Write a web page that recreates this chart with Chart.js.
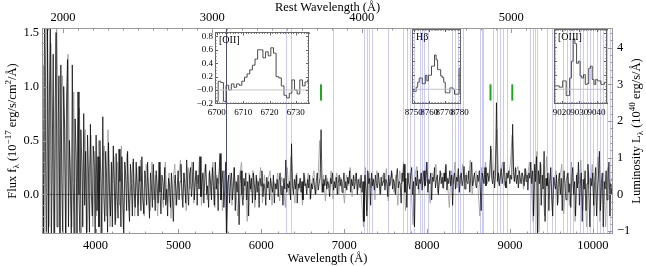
<!DOCTYPE html>
<html>
<head>
<meta charset="utf-8">
<script src="https://cdn.jsdelivr.net/npm/chart.js@4.4.1/dist/chart.umd.min.js"></script>
<style>
  body { margin: 0; background: #fff; }
  #wrap { position: relative; width: 646px; height: 266px; }
  canvas { position: absolute; }
</style>
</head>
<body>
<div id="wrap">
  <canvas id="main" width="646" height="266" style="left:0;top:0"></canvas>
  <canvas id="inOII" width="124" height="95" style="left:190px;top:25px"></canvas>
  <canvas id="inHb" width="90" height="95" style="left:382px;top:25px"></canvas>
  <canvas id="inOIII" width="90" height="95" style="left:524px;top:25px"></canvas>
</div>
<script>
const SERIF = '"Liberation Serif", "Times New Roman", serif';
Chart.defaults.font.family = SERIF;
Chart.defaults.color = '#000';

// observed spectrum, regular grid in wavelength (Å)
const waveStart = 3340, waveStep = 11.5;
const flux = [
  1.8, -0.6, 1.2, -0.5, 2.0, 0.3, -0.7, 1.6, -0.4, 0.9, 1.7, -0.5, 0.4, 1.3, -0.6, 0.8, 1.5, -0.3, 0.6, 1.1,
  -0.5, 1.2, 0.2, -0.4, 1.0, 0.6, -0.45, 0.9, 1.25, -0.3, 0.5, 0.2, -0.5, 1.2, 0.1, -0.4, 0.7, 0.35, -0.45, 0.95,
  0.0, -0.4, 0.6, 0.3, -0.3, 0.75, -0.1, 0.4, -0.45, 0.55, 0.2, -0.35, 0.65, 0.0, -0.2, 0.45, 0.25, -0.4, 0.55, -0.15,
  0.35, -0.3, 0.5, 0.1, -0.38, 0.72, 0.0, -0.25, 0.4, 0.15, -0.35, 0.48, 0.05, -0.2, 0.3, -0.3, 0.45, 0.1, -0.28, 0.38,
  0.0, -0.22, 0.42, 0.12, -0.3, 0.35, 0.0, -0.38, 0.3, 0.18, -0.15, 0.4, -0.05, -0.25, 0.28, 0.1, -0.2, 0.33, 0.02, -0.12,
  0.3, 0.05, -0.2, 0.26, 0.12, -0.15, 0.35, -0.02, -0.18, 0.22, 0.15, -0.1, 0.3, 0.0, -0.22, 0.2, 0.08, -0.12, 0.28, 0.05,
  -0.15, 0.22, 0.1, -0.08, 0.3, 0.02, -0.18, 0.18, 0.12, -0.05, 0.25, -0.1, 0.05, -0.2, 0.15, 0.08, -0.12, 0.2, 0.0, -0.25,
  0.1, 0.18, -0.1, 0.05, 0.22, -0.05, 0.12, 0.28, 0.0, -0.12, 0.2, 0.1, -0.08, 0.32, 0.05, -0.1, 0.18, 0.25, -0.02, 0.1,
  0.3, -0.05, 0.12, 0.22, -0.1, 0.18, 0.05, 0.35, -0.02, 0.1, 0.2, -0.08, 0.15, 0.28, 0.0, 0.08, -0.12, 0.22, 0.12, -0.05,
  0.25, 0.08, -0.1, 0.3, 0.05, 0.15, -0.15, 0.2, 0.38, -0.05, 0.1, 0.22, -0.12, 0.05, 0.3, -0.38, 0.1, 0.18, -0.08, 0.12,
  0.2, -0.05, 0.08, 0.25, -0.15, 0.12, 0.02, 0.18, -0.28, 0.1, 0.22, 0.0, -0.1, 0.15, 0.08, 0.2, -0.05, 0.12, -0.2, 0.18,
  0.05, 0.15, -0.08, 0.2, 0.1, -0.05, 0.18, 0.02, 0.12, -0.12, 0.15, 0.08, 0.22, -0.02, 0.1, 0.05, -0.1, 0.16, 0.06, 0.12,
  -0.05, 0.15, 0.08, 0.02, 0.18, -0.08, 0.1, 0.05, 0.14, -0.02, 0.12, 0.2, 0.0, 0.08, -0.1, 0.15, 0.05, 0.32, 0.02, 0.1,
  0.06, 0.12, -0.05, 0.47, 0.08, 0.0, 0.14, 0.05, 0.18, -0.08, 0.1, 0.06, 0.15, 0.02, 0.12, -0.05, 0.2, 0.08, 0.1, 0.0,
  0.14, 0.06, 0.18, -0.04, 0.1, 0.05, 0.15, 0.08, 0.0, 0.12, 0.2, 0.04, 0.1, 0.16, 0.6, 0.1, 0.02, 0.14, 0.08, 0.18,
  0.05, 0.12, 0.08, -0.02, 0.15, 0.1, 0.2, 0.04, 0.12, 0.06, 0.16, 0.0, 0.1, 0.18, 0.08, 0.14, 0.02, 0.1, 0.2, 0.06,
  0.12, 0.04, 0.16, 0.1, 0.22, 0.02, 0.14, 0.08, 0.18, 0.05, 0.12, 0.2, 0.0, 0.14, 0.1, 0.06, 0.18, 0.02, 0.12, -0.25,
  0.18, 0.05, -0.2, 0.22, 0.1, 0.15, -0.1, 0.2, 0.08, 0.14, 0.04, 0.18, 0.1, 0.06, 0.2, 0.12, 0.0, 0.16, 0.08, 0.12,
  0.2, 0.04, 0.14, 0.1, -0.02, 0.18, 0.08, 0.12, 0.22, 0.05, 0.14, 0.1, 0.0, 0.16, 0.24, 0.06, 0.12, 0.1, -0.08, 0.2,
  0.12, 0.28, 0.02, 0.15, -0.12, 0.2, 0.1, 0.05, 0.18, 0.25, 0.0, 0.12, -0.3, 0.16, 0.08, 0.22, 0.05, 0.14, 0.1, 0.2,
  0.04, 0.16, 0.22, 0.08, 0.12, 0.3, 0.02, 0.14, 0.1, 0.2, -0.05, 0.16, 0.12, 0.25, 0.06, 0.14, 0.18, 0.0, 0.12, 0.22,
  0.1, 0.16, 0.06, 0.2, 0.12, 0.28, 0.04, 0.15, 0.1, 0.22, 0.08, 0.18, -0.1, 0.14, 0.2, 0.05, 0.16, 0.12, 0.24, 0.02,
  0.15, 0.2, 0.08, 0.14, 0.26, 0.05, 0.18, 0.12, 0.1, 0.22, 0.02, 0.16, 0.3, 0.08, 0.14, 0.2, 0.1, 0.06, 0.18, 0.12,
  0.22, 0.05, -0.15, 0.2, 0.14, 0.1, 0.25, 0.08, 0.16, 0.2, 0.12, 0.18, 0.45, 0.15, 0.1, 0.22, 0.06, 0.18, 0.85, 0.12,
  0.2, 0.08, 0.16, 0.24, 0.1, 0.18, 0.3, 0.12, 0.06, 0.2, 0.15, 0.22, 0.1, 0.18, 0.14, 0.65, 0.2, 0.12, 0.25, 0.1,
  0.18, 0.06, 0.22, 0.14, 0.1, 0.2, 0.16, 0.08, 0.24, 0.12, 0.18, 0.04, 0.2, 0.15, 0.3, 0.1, 0.22, -0.2, 0.28, 0.12,
  0.35, -0.37, 0.22, 0.1, 0.3, -0.1, 0.18, 0.05, 0.4, -0.25, 0.15, 0.08, 0.2, -0.15, 0.12, 0.25, 0.0, -0.2, 0.16, 0.1,
  0.05, 0.18, -0.1, 0.12, 0.2, 0.0, 0.15, -0.15, 0.1, 0.22, 0.06, -0.05, 0.14, 0.2, 0.02, 0.1, -0.12, 0.16, 0.25, 0.0,
  0.12, -0.2, 0.18, 0.06, 0.3, -0.1, 0.1, 0.2, -0.25, 0.14, 0.05, 0.22, -0.15, 0.1, 0.28, 0.0, -0.3, 0.15, 0.08, 0.2,
  -0.1, 0.12, 0.25, -0.2, 0.05, 0.18, 0.4, -0.15, 0.1, 0.2, -0.3, 0.12, 0.05, 0.22, -0.05, 0.15, 0.3, -0.2, 0.1, 0.0,
  0.14, -0.12
];

// second (grey) trace of the spectrum, coarser grid
const greyStart = 3346, greyStep = 23;
const fluxGrey = [
  1.6, -0.5, 0.9, 1.9, -0.3, 1.4, 0.2, -0.6, 1.7, 0.5,
  -0.4, 1.1, 0.7, -0.5, 1.3, 0.1, -0.3, 0.95, -0.45, 0.6,
  0.8, -0.4, 0.3, 0.6, -0.35, 0.15, 0.55, -0.3, 0.4, -0.2,
  0.5, -0.38, 0.25, 0.45, -0.2, 0.6, -0.3, 0.1, 0.35, -0.25,
  0.3, -0.1, 0.45, -0.32, 0.2, 0.38, -0.15, 0.1, 0.3, -0.2,
  0.25, -0.1, 0.32, 0.0, -0.2, 0.28, 0.1, -0.15, 0.3, -0.05,
  0.18, -0.2, 0.25, 0.05, -0.12, 0.3, -0.08, 0.2, -0.22, 0.12,
  0.28, -0.1, 0.15, 0.32, -0.05, 0.2, -0.15, 0.25, 0.05, 0.3,
  -0.08, 0.22, 0.1, 0.35, -0.1, 0.15, 0.28, -0.05, 0.2, 0.0,
  0.3, -0.12, 0.18, 0.1, 0.36, -0.15, 0.22, -0.35, 0.12, 0.2,
  -0.1, 0.25, 0.05, -0.2, 0.18, 0.3, -0.05, 0.12, -0.25, 0.2,
  0.02, 0.22, -0.12, 0.15, 0.08, 0.25, -0.08, 0.18, 0.0, 0.14,
  0.22, -0.1, 0.12, 0.05, 0.2, -0.06, 0.16, 0.1, -0.12, 0.25,
  0.0, 0.35, 0.08, -0.08, 0.2, 0.04, 0.15, -0.1, 0.18, 0.06,
  0.2, -0.05, 0.12, 0.22, 0.0, 0.1, 0.5, 0.02, 0.18, -0.06,
  0.15, 0.06, 0.22, -0.04, 0.12, 0.2, 0.0, 0.16, 0.1, -0.08,
  0.18, 0.08, 0.25, -0.02, 0.12, 0.2, 0.04, 0.15, -0.05, -0.3,
  0.25, -0.15, 0.2, 0.06, 0.15, -0.05, 0.22, 0.1, 0.0, 0.18,
  0.08, 0.24, -0.06, 0.14, 0.2, 0.02, 0.18, -0.1, 0.22, 0.1,
  0.3, -0.15, 0.12, 0.2, 0.05, -0.28, 0.18, 0.26, 0.0, 0.15,
  0.22, 0.06, 0.3, 0.1, -0.08, 0.2, 0.14, 0.28, 0.02, 0.16,
  0.2, 0.05, 0.26, 0.12, -0.12, 0.22, 0.1, 0.3, 0.06, 0.18,
  0.1, 0.28, 0.05, 0.2, 0.14, 0.32, 0.0, 0.18, 0.22, 0.08,
  -0.2, 0.25, 0.12, 0.3, 0.1, 0.2, 0.42, 0.15, 0.25, 0.6,
  0.1, 0.22, 0.3, 0.08, 0.2, 0.16, 0.28, 0.55, 0.12, 0.2,
  0.26, 0.1, 0.2, 0.05, 0.24, 0.15, 0.3, 0.08, -0.25, 0.2,
  0.4, -0.35, 0.28, 0.1, -0.2, 0.35, 0.05, 0.2, -0.15, 0.12,
  0.22, -0.08, 0.15, 0.28, -0.18, 0.1, 0.2, -0.1, 0.3, 0.05,
  -0.25, 0.2, 0.1, 0.32, -0.15, 0.15, -0.3, 0.22, 0.05, 0.28,
  -0.2, 0.15, 0.35, -0.25, 0.1, 0.2, -0.3, 0.25, 0.05, 0.15,
  0.1
];

const redshift = 0.803;
const obsRange = [3354, 10243];
const fluxRange = [-0.366, 1.542];
const lumPerFlux = 2.94;

const obsTicks = [4000, 5000, 6000, 7000, 8000, 9000, 10000];
const restTicks = [2000, 3000, 4000, 5000];
const fluxTicks = [0, 0.5, 1.0, 1.5];
const lumTicks = [-1, 0, 1, 2, 3, 4];

// sky-line positions (observed Å)
const skyStrong = [5577];
const skyLines = [6298, 6354, 6868, 7239, 7271, 7303, 7332, 7532, 7709, 7754, 7794, 7842,
  7914, 7938, 7963, 8011, 8300, 8337, 8373, 8397, 8433, 8638, 8662, 8674, 8795, 8843, 8879,
  8916, 8964, 9241, 9278, 9302, 9326, 9446, 9507, 9543, 9640, 9688, 9724, 9760, 9845, 9881,
  9929, 9965, 10001, 10049, 10086, 10122, 10170, 10206, 10230];

// emission line markers
const lineMarks = [6720, 8765, 9028];
const markSpan = [0.87, 1.02];

// inset spectra, 1 Å bins
const oiiStart = 6699;
const oiiFlux = [0.0, -0.17, 0.13, 0.11, -0.17, 0.07, 0.0, 0.09, 0.04, 0.09, 0.07, 0.13, 0.19, 0.24,
  0.3, 0.37, 0.46, 0.6, 0.6, 0.48, 0.57, 0.51, 0.63, 0.55, 0.2, 0.18, 0.06, -0.08, -0.12, -0.05,
  0.15, 0.0, -0.06, 0.15, 0.06, 0.12, 0.15, 0.15];
const hbStart = 8748;
const hbFlux = [0.01, 0.01, -0.03, -0.03, 0.03, 0.1, 0.16, 0.16, 0.08, 0.08, 0.2, 0.12, 0.2, 0.2,
  0.33, 0.33, 0.49, 0.42, 0.28, 0.28, 0.19, 0.17, 0.1, -0.05, -0.05, -0.05, 0.02, 0.02, 0.0,
  -0.07, -0.07, -0.07, 0.3, 0.3];
const oiiiStart = 9015;
const oiiiFlux = [0.05, 0.05, 0.05, 0.05, 0.03, 0.03, 0.12, 0.12, -0.09, -0.09, 0.16, 0.4, 0.72,
  0.65, 0.37, 0.4, 0.19, 0.16, 0.21, 0.07, 0.08, 0.3, 0.33, 0.14, 0.07, 0.14, 0.12, 0.12, 0.07,
  0.07, 0.1, 0.1];
const insetRange = [-0.21, 0.86];
const insetYTicks = [-0.2, 0, 0.2, 0.4, 0.6, 0.8];

function drawEdgeTicks(chart, id, edge, major, minor, majLen, minLen, color) {
  const s = chart.scales[id], a = chart.chartArea, ctx = chart.ctx;
  ctx.save();
  ctx.strokeStyle = color;
  ctx.lineWidth = 1;
  ctx.beginPath();
  const n0 = Math.ceil(s.min / minor - 1e-6), n1 = Math.floor(s.max / minor + 1e-6);
  for (let n = n0; n <= n1; n++) {
    const v = n * minor;
    const r = v / major;
    const len = Math.abs(r - Math.round(r)) < 1e-6 ? majLen : minLen;
    const p = Math.round(s.getPixelForValue(v)) + 0.5;
    if (edge === 'bottom') { ctx.moveTo(p, a.bottom); ctx.lineTo(p, a.bottom - len); }
    else if (edge === 'top') { ctx.moveTo(p, a.top); ctx.lineTo(p, a.top + len); }
    else if (edge === 'left') { ctx.moveTo(a.left, p); ctx.lineTo(a.left + len, p); }
    else { ctx.moveTo(a.right, p); ctx.lineTo(a.right - len, p); }
  }
  ctx.stroke();
  ctx.restore();
}

function drawFrame(chart, color) {
  const a = chart.chartArea, ctx = chart.ctx;
  ctx.save();
  ctx.strokeStyle = color;
  ctx.lineWidth = 1;
  ctx.strokeRect(Math.round(a.left) + 0.5, Math.round(a.top) + 0.5, Math.round(a.width) - 1, Math.round(a.height) - 1);
  ctx.restore();
}

// text with sub/superscripts: parts = [[text, mode]], mode 1 = sup, -1 = sub
function drawRich(ctx, parts, cx, cy, angle, size) {
  const small = Math.round(size * 0.7);
  ctx.save();
  ctx.translate(cx, cy);
  ctx.rotate(angle);
  ctx.fillStyle = '#000';
  ctx.textBaseline = 'alphabetic';
  let total = 0;
  const widths = parts.map(([t, m]) => {
    ctx.font = (m ? small : size) + 'px ' + SERIF;
    const w = ctx.measureText(t).width;
    total += w;
    return w;
  });
  let x = -total / 2;
  parts.forEach(([t, m], i) => {
    ctx.font = (m ? small : size) + 'px ' + SERIF;
    const dy = m === 1 ? -size * 0.4 : m === -1 ? size * 0.25 : 0;
    ctx.fillText(t, x, size * 0.33 + dy);
    x += widths[i];
  });
  ctx.restore();
}

const skyPlugin = {
  id: 'sky',
  beforeDatasetsDraw(chart) {
    const { ctx, chartArea: a } = chart, s = chart.scales.x;
    ctx.save();
    ctx.lineWidth = 1;
    ctx.strokeStyle = 'rgba(150,150,255,0.5)';
    ctx.beginPath();
    skyLines.forEach(w => {
      const p = Math.round(s.getPixelForValue(w)) + 0.5;
      ctx.moveTo(p, a.top); ctx.lineTo(p, a.bottom);
    });
    ctx.stroke();
    ctx.strokeStyle = '#4a4a96';
    ctx.beginPath();
    skyStrong.forEach(w => {
      const p = Math.round(s.getPixelForValue(w)) + 0.5;
      ctx.moveTo(p, a.top); ctx.lineTo(p, a.bottom);
    });
    ctx.stroke();
    ctx.restore();
  }
};

const mainFrame = {
  id: 'mainFrame',
  afterDraw(chart) {
    drawFrame(chart, '#999');
    drawEdgeTicks(chart, 'x', 'bottom', 1000, 200, 5, 2.5, '#999');
    drawEdgeTicks(chart, 'x2', 'top', 1000, 100, 5, 2.5, '#999');
    drawEdgeTicks(chart, 'y', 'left', 0.5, 0.1, 5, 2.5, '#999');
    drawEdgeTicks(chart, 'y2', 'right', 1, 0.2, 5, 2.5, '#999');
    const ctx = chart.ctx, a = chart.chartArea;
    const cx = (a.left + a.right) / 2, cy = (a.top + a.bottom) / 2;
    drawRich(ctx, [['Flux f', 0], ['λ', -1], [' (10', 0], ['−17', 1], [' erg/s/cm', 0], ['2', 1], ['/Å)', 0]], 12, cy, -Math.PI / 2, 12.5);
    drawRich(ctx, [['Luminosity L', 0], ['λ', -1], [' (10', 0], ['40', 1], [' erg/s/Å)', 0]], 636, cy, -Math.PI / 2, 12.5);
    drawRich(ctx, [['Wavelength (Å)', 0]], cx, 258, 0, 12.5);
    drawRich(ctx, [['Rest Wavelength (Å)', 0]], cx, 7, 0, 12.5);
  }
};

const tickFont = { size: 12.5 };
const noGrid = { display: false, drawTicks: false };

new Chart(document.getElementById('main'), {
  type: 'line',
  data: {
    datasets: [
      { data: obsRange.map(w => ({ x: w, y: 0 })), borderColor: '#8c8c8c', borderWidth: 1, order: 4, xAxisID: 'x', yAxisID: 'y' },
      { data: fluxGrey.map((v, i) => ({ x: greyStart + i * greyStep, y: v })), borderColor: '#9a9a9a', borderWidth: 0.8, order: 3, xAxisID: 'x', yAxisID: 'y' },
      { data: flux.map((v, i) => ({ x: waveStart + i * waveStep, y: v })), borderColor: '#000', borderWidth: 0.7, order: 2, xAxisID: 'x', yAxisID: 'y' },
      ...lineMarks.map(w => ({ data: markSpan.map(y => ({ x: w, y })), borderColor: '#1fa81f', borderWidth: 2, order: 1, xAxisID: 'x', yAxisID: 'y' }))
    ]
  },
  options: {
    responsive: false,
    animation: false,
    devicePixelRatio: 1,
    elements: { point: { radius: 0 }, line: { tension: 0 } },
    plugins: { legend: { display: false }, tooltip: { enabled: false } },
    layout: { padding: 0 },
    scales: {
      x: {
        type: 'linear', position: 'bottom', min: obsRange[0], max: obsRange[1],
        grid: noGrid, border: { display: false },
        ticks: { font: tickFont, padding: 4, maxRotation: 0, autoSkip: false, callback: v => String(v) },
        afterBuildTicks: s => { s.ticks = obsTicks.map(v => ({ value: v })); },
        afterFit: s => { s.height = 32; }
      },
      x2: {
        type: 'linear', position: 'top', min: obsRange[0] / (1 + redshift), max: obsRange[1] / (1 + redshift),
        grid: noGrid, border: { display: false },
        ticks: { font: tickFont, padding: 3, maxRotation: 0, autoSkip: false, callback: v => String(v) },
        afterBuildTicks: s => { s.ticks = restTicks.map(v => ({ value: v })); },
        afterFit: s => { s.height = 28; }
      },
      y: {
        type: 'linear', position: 'left', min: fluxRange[0], max: fluxRange[1],
        grid: noGrid, border: { display: false },
        ticks: { font: tickFont, padding: 3, autoSkip: false, callback: v => v.toFixed(1) },
        afterBuildTicks: s => { s.ticks = fluxTicks.map(v => ({ value: v })); },
        afterFit: s => { s.width = 42; }
      },
      y2: {
        type: 'linear', position: 'right', min: fluxRange[0] * lumPerFlux, max: fluxRange[1] * lumPerFlux,
        grid: noGrid, border: { display: false },
        ticks: { font: tickFont, padding: 4, autoSkip: false, callback: v => (v < 0 ? '−' : '') + Math.abs(v) },
        afterBuildTicks: s => { s.ticks = lumTicks.map(v => ({ value: v })); },
        afterFit: s => { s.width = 33; }
      }
    }
  },
  plugins: [skyPlugin, mainFrame]
});

function makeInset(id, start, values, xRange, xTicks, label, showY, pad) {
  const frame = {
    id: 'insetFrame',
    afterDraw(chart) {
      drawFrame(chart, '#666');
      drawEdgeTicks(chart, 'x', 'bottom', 10, 1, 3, 1.5, '#666');
      drawEdgeTicks(chart, 'x', 'top', 10, 1, 3, 1.5, '#666');
      drawEdgeTicks(chart, 'y', 'left', 0.2, 0.05, 3, 1.5, '#666');
      drawEdgeTicks(chart, 'y', 'right', 0.2, 0.05, 3, 1.5, '#666');
      const ctx = chart.ctx, a = chart.chartArea;
      ctx.save();
      ctx.font = '10px ' + SERIF;
      ctx.fillStyle = '#000';
      ctx.textBaseline = 'top';
      ctx.fillText(label, a.left + 4, a.top + 3);
      ctx.restore();
    }
  };
  return new Chart(document.getElementById(id), {
    type: 'line',
    data: {
      datasets: [
        { data: xRange.map(w => ({ x: w, y: 0 })), borderColor: '#c4c4c4', borderWidth: 1 },
        { data: values.map((v, i) => ({ x: start + i, y: v })), borderColor: '#4a4a4a', borderWidth: 1, stepped: 'middle' }
      ]
    },
    options: {
      responsive: false,
      animation: false,
      devicePixelRatio: 1,
      elements: { point: { radius: 0 }, line: { tension: 0 } },
      plugins: { legend: { display: false }, tooltip: { enabled: false } },
      layout: { padding: pad },
      scales: {
        x: {
          type: 'linear', min: xRange[0], max: xRange[1],
          grid: noGrid, border: { display: false },
          ticks: { font: { size: 9 }, padding: 3, maxRotation: 0, autoSkip: false, callback: v => String(v) },
          afterBuildTicks: s => { s.ticks = xTicks.map(v => ({ value: v })); },
          afterFit: s => { s.height = 16; }
        },
        y: {
          type: 'linear', min: insetRange[0], max: insetRange[1], display: showY,
          grid: noGrid, border: { display: false },
          ticks: { font: { size: 9 }, padding: 2, autoSkip: false, callback: v => (v <= 0 ? '−' : '') + Math.abs(v).toFixed(1) },
          afterBuildTicks: s => { s.ticks = insetYTicks.map(v => ({ value: v })); },
          afterFit: s => { s.width = 25; }
        }
      }
    },
    plugins: [frame]
  });
}

makeInset('inOII', oiiStart, oiiFlux, [6699.3, 6735], [6700, 6710, 6720, 6730], '[OII]', true, { left: 0, top: 4, right: 5, bottom: 0 });
makeInset('inHb', hbStart, hbFlux, [8748.8, 8780.8], [8750, 8760, 8770, 8780], 'Hβ', false, { left: 5, top: 4, right: 6, bottom: 0 });
makeInset('inOIII', oiiiStart, oiiiFlux, [9015.5, 9046], [9020, 9030, 9040], '[OIII]', false, { left: 5, top: 4, right: 7, bottom: 0 });
</script>
</body>
</html>
